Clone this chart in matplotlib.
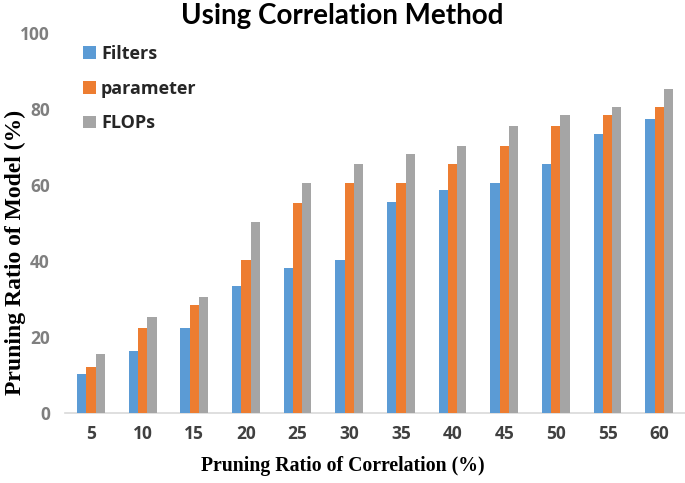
import matplotlib
matplotlib.use("Agg")
import matplotlib.pyplot as plt
import numpy as np

categories = ["5", "10", "15", "20", "25", "30", "35", "40", "45", "50", "55", "60"]
filters = [10.2, 16.3, 22.4, 33.3, 38.2, 40.3, 55.4, 58.6, 60.6, 65.5, 73.5, 77.3]
parameter = [12.2, 22.3, 28.4, 40.2, 55.3, 60.5, 60.5, 65.4, 70.3, 75.6, 78.5, 80.5]
flops = [15.4, 25.2, 30.4, 50.3, 60.5, 65.4, 68.2, 70.3, 75.5, 78.5, 80.5, 85.3]
series_names = ["Filters", "parameter", "FLOPs"]
y_ticks = [0, 20, 40, 60, 80, 100]

colors = ["#5B9BD5", "#ED7D31", "#A5A5A5"]

fig = plt.figure(figsize=(6.85, 4.83), dpi=100)
ax = fig.add_axes([0.095, 0.145, 0.905, 0.787])

x = np.arange(len(categories))
w = 0.18
for i, (vals, name) in enumerate(zip([filters, parameter, flops], series_names)):
    ax.bar(x + (i - 1) * w, vals, width=w, color=colors[i], label=name, zorder=3)

ax.set_xlim(-0.5, len(categories) - 0.5)
ax.set_ylim(0, 100)
ax.set_yticks(y_ticks)
ax.set_xticks(x)
ax.set_xticklabels(categories)

for s in ["top", "right", "left"]:
    ax.spines[s].set_visible(False)
ax.spines["bottom"].set_color("#D9D9D9")
ax.spines["bottom"].set_linewidth(1.2)
ax.tick_params(axis="both", length=0, labelsize=12.5)
ax.tick_params(axis="x", labelcolor="#404040", pad=9)
ax.tick_params(axis="y", labelcolor="#7F7F7F", pad=11)
for lab in ax.get_xticklabels() + ax.get_yticklabels():
    lab.set_fontweight("bold")
    lab.set_family("Open Sans")

fig.text(0.5, 1 - 466 / 483, "Pruning Ratio of Correlation (%)", ha="center", va="center",
         family="Liberation Serif", fontweight="bold", fontsize=14.2)
fig.text(15 / 685, 1 - 252 / 483, "Pruning Ratio of Model (%)", ha="center", va="center",
         rotation=90, family="Liberation Serif", fontweight="bold", fontsize=17)

fig.text(0.5, 1 - 16 / 483, "Using Correlation Method", ha="center", va="center",
         family="Lato", fontweight="bold", fontsize=20, color="#000000")

leg = fig.legend(loc="upper left", bbox_to_anchor=(83 / 685, 1 - 45 / 483), frameon=False,
                 handlelength=0.7, handleheight=0.7, handletextpad=0.3,
                 labelspacing=0.92, borderaxespad=0, borderpad=0,
                 prop={"family": "Open Sans", "weight": "bold", "size": 13})
for t in leg.get_texts():
    t.set_color("#262626")

fig.savefig("out.png", dpi=100)
